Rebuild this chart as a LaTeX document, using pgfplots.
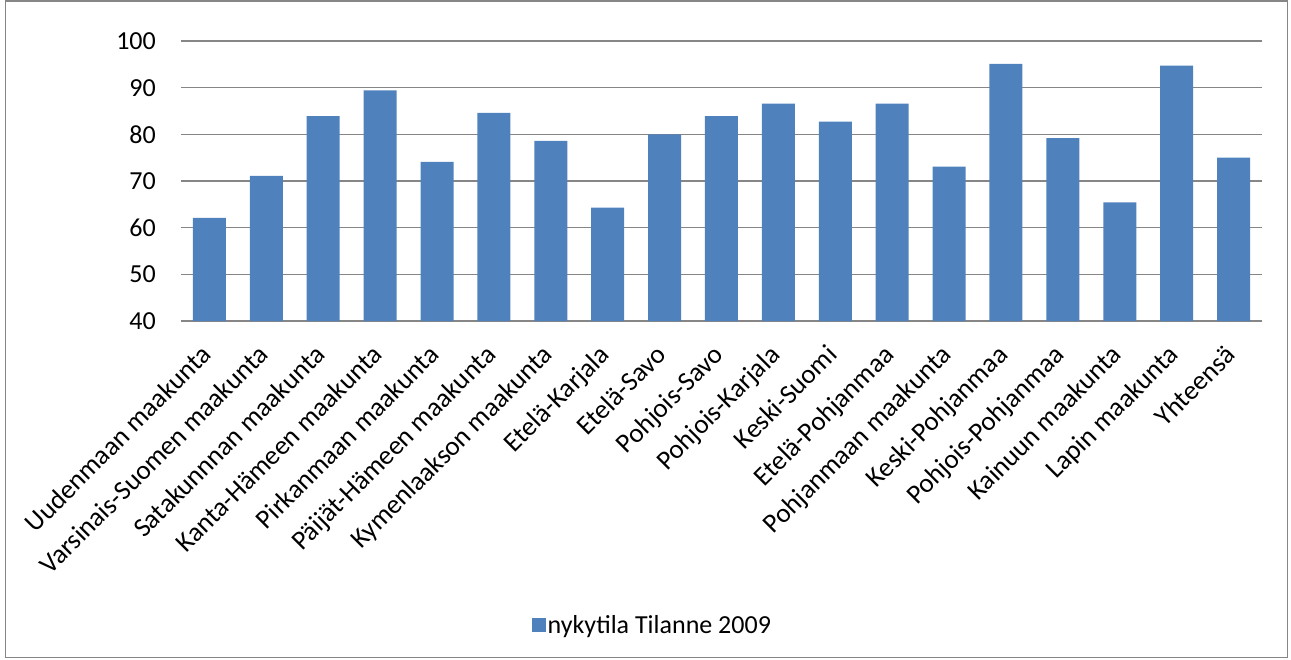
\documentclass[border=0pt]{standalone}
\usepackage{fontspec}
\setmainfont{Carlito}
\usepackage{pgfplots}
\pgfplotsset{compat=1.18}
\definecolor{barblue}{HTML}{4F81BD}
\definecolor{gridgray}{HTML}{868686}
\newcommand{\chartfont}{\fontsize{26}{31}\selectfont}
\newcommand{\catfont}{\fontsize{27}{32}\selectfont}
\begin{document}
\begin{tikzpicture}
\path[use as bounding box] (0,0) rectangle (1291pt,659pt);
% outer chart frame
\draw[gridgray, line width=1.2pt] (5.5pt,1.5pt) rectangle (1287.5pt,658pt);
\begin{axis}[
  at={(181pt,338pt)}, anchor=south west,
  scale only axis, width=1081pt, height=280pt,
  ymin=40, ymax=100, ytick={40,50,...,100},
  xmin=-0.5, xmax=18.5, xtick={0,...,18},
  xticklabels={Uudenmaan maakunta, Varsinais-Suomen maakunta, Satakunnnan maakunta,
    Kanta-Hämeen maakunta, Pirkanmaan maakunta, Päijät-Hämeen maakunta,
    Kymenlaakson maakunta, Etelä-Karjala, Etelä-Savo, Pohjois-Savo,
    Pohjois-Karjala, Keski-Suomi, Etelä-Pohjanmaa, Pohjanmaan maakunta,
    Keski-Pohjanmaa, Pohjois-Pohjanmaa, Kainuun maakunta, Lapin maakunta, Yhteensä},
  axis x line*=bottom, axis y line*=left,
  x axis line style={gridgray, line width=1.6pt, -},
  y axis line style={draw=none},
  major tick length=0pt,
  ymajorgrids, grid style={gridgray, line width=1.6pt},
  ybar, bar width=33pt,
  /pgf/number format/assume math mode=true,
  yticklabel style={font=\chartfont, anchor=east, inner sep=0pt, xshift=-25pt},
  xticklabel style={font=\catfont, xshift=-10pt, yshift=-22pt, rotate=45, anchor=north east, inner sep=0pt},
  legend style={at={(0.436,-1.086)}, anchor=center, draw=none, font=\chartfont,
    inner sep=0pt, column sep=0pt},
  legend image code/.code={\fill[#1] (0pt,-7pt) rectangle (14pt,7pt);},
]
\addplot[fill=barblue, draw=none] coordinates {
  (0,62.1) (1,71.1) (2,83.9) (3,89.4) (4,74.1) (5,84.6) (6,78.6)
  (7,64.3) (8,80.0) (9,83.9) (10,86.6) (11,82.7) (12,86.6) (13,73.1)
  (14,95.1) (15,79.2) (16,65.4) (17,94.7) (18,75.0)
};
\legend{nykytila Tilanne 2009}
\end{axis}
\end{tikzpicture}
\end{document}
